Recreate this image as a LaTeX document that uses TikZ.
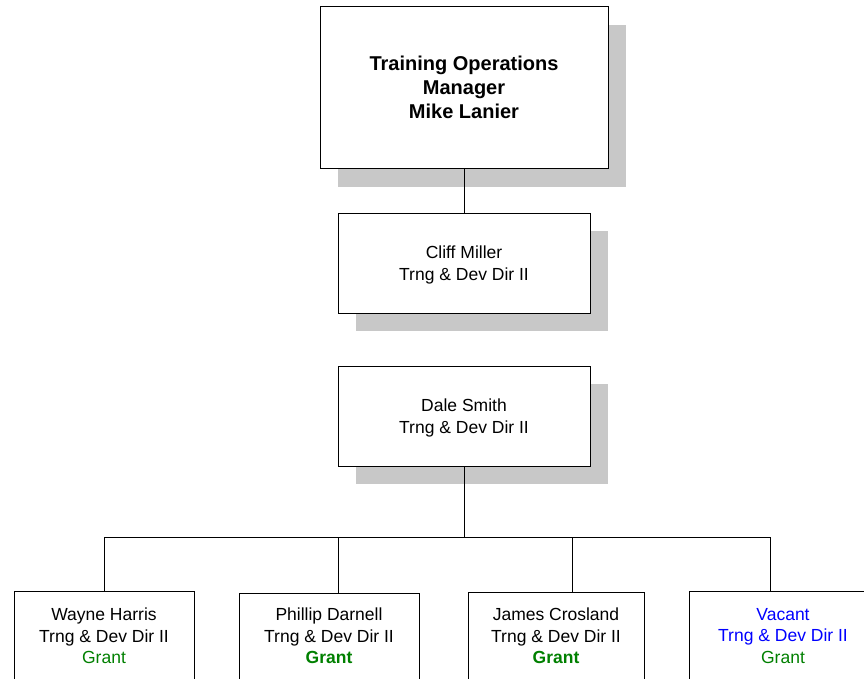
\documentclass[tikz,border=0pt]{standalone}
\usepackage{fontspec}
\setmainfont{Liberation Sans}
\usetikzlibrary{shadows}
\definecolor{shadowgray}{RGB}{200,200,200}
\definecolor{grantgreen}{RGB}{0,128,0}
\definecolor{vacblue}{RGB}{0,0,255}
\begin{document}
\begin{tikzpicture}[x=1pt,y=-1pt,
  box/.style={draw=black, line width=1pt, fill=white, rectangle, inner sep=0},
  shadowed/.style={drop shadow={shadow xshift=18pt, shadow yshift=-18pt, fill=shadowgray, draw=none, opacity=1}},
  txt/.style={align=center, inner sep=0, font=\fontsize{17.5}{21.5}\selectfont},
  toptxt/.style={align=center, inner sep=0, font=\fontsize{20}{24}\selectfont\bfseries},
  conn/.style={draw=black, line width=1pt}]
\useasboundingbox (0,0) rectangle (864,679);

% top
\node[box, shadowed, minimum width=288, minimum height=162] (top) at (464,88) {};
\node[toptxt] (toptext) at ([yshift=1pt]top.center) {Training Operations\\Manager\\Mike Lanier};

% Cliff
\node[box, shadowed, minimum width=252, minimum height=100] (cliff) at (464,263) {};
\node[txt] (clifftext) at ([yshift=-2pt]cliff.center) {Cliff Miller\\Trng \& Dev Dir II};

% Dale
\node[box, shadowed, minimum width=252, minimum height=100] (dale) at (464,416) {};
\node[txt] (daletext) at ([yshift=-2pt]dale.center) {Dale Smith\\Trng \& Dev Dir II};

% bottom row
\node[box, minimum width=180, minimum height=130, anchor=north] (b1) at (104,591) {};
\node[box, minimum width=180, minimum height=130, anchor=north] (b2) at (329,593) {};
\node[box, minimum width=176, minimum height=130, anchor=north] (b3) at (556,592) {};
\node[box, minimum width=188, minimum height=130, anchor=north] (b4) at (783,591) {};

\node[txt, anchor=north] (t1) at ([yshift=-17pt]b1.north) {Wayne Harris\\Trng \& Dev Dir II\\\textcolor{grantgreen}{Grant}};
\node[txt, anchor=north] (t2) at ([yshift=-15pt]b2.north) {Phillip Darnell\\Trng \& Dev Dir II\\\textcolor{grantgreen}{\bfseries Grant}};
\node[txt, anchor=north] (t3) at ([yshift=-16pt]b3.north) {James Crosland\\Trng \& Dev Dir II\\\textcolor{grantgreen}{\bfseries Grant}};
\node[txt, anchor=north] (t4) at ([yshift=-17pt]b4.north) {\textcolor{vacblue}{Vacant}\\\textcolor{vacblue}{Trng \& Dev Dir II}\\\textcolor{grantgreen}{Grant}};

% connectors
\draw[conn] (top.south) -- (cliff.north);
\coordinate (bus) at (464,537);
\coordinate (d1) at (104,537);
\coordinate (d2) at (338,537);
\coordinate (d3) at (572,537);
\coordinate (d4) at (770,537);
\draw[conn] (dale.south) -- (bus);
\draw[conn] (d1) -- (d4);
\draw[conn] (d1) -- (d1 |- b1.north);
\draw[conn] (d2) -- (d2 |- b2.north);
\draw[conn] (d3) -- (d3 |- b3.north);
\draw[conn] (d4) -- (d4 |- b4.north);
\end{tikzpicture}
\end{document}
